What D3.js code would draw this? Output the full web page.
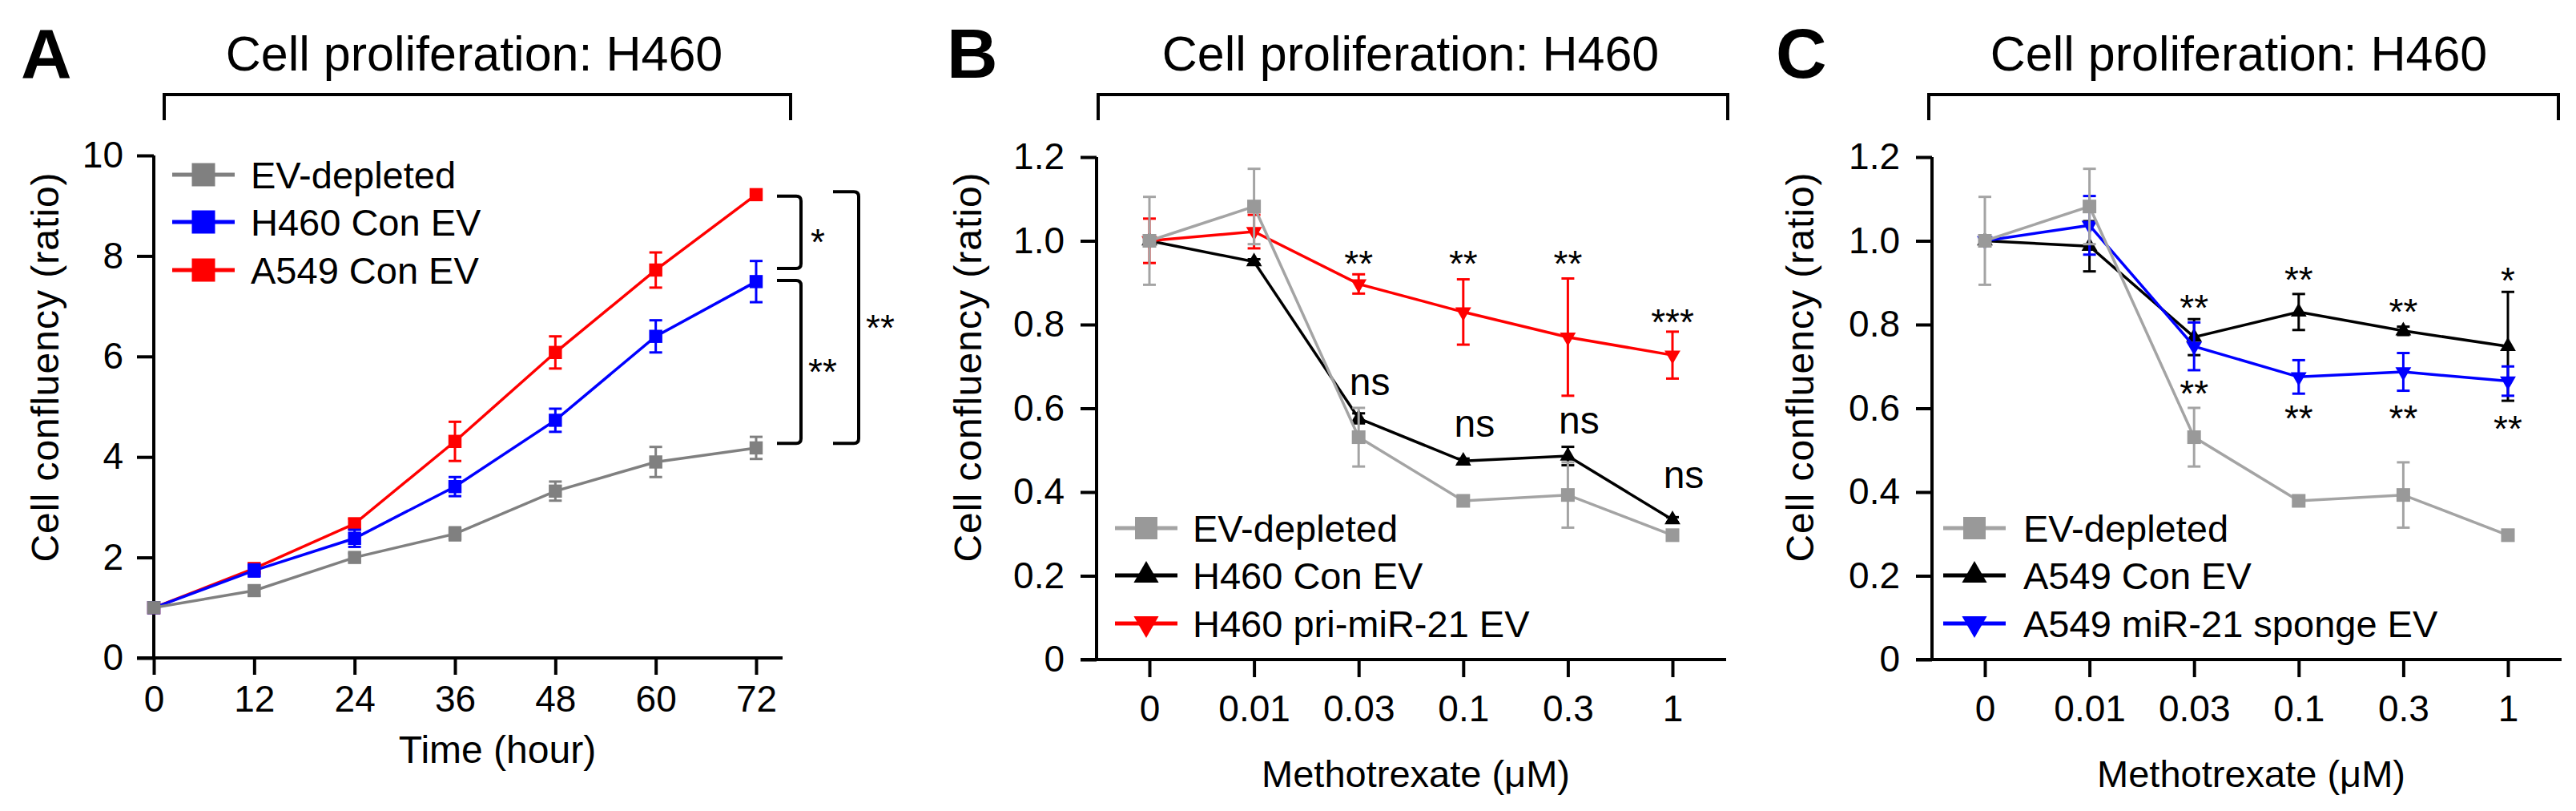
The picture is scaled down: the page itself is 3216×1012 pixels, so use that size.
<!DOCTYPE html>
<html>
<head>
<meta charset="utf-8">
<script src="https://cdn.jsdelivr.net/npm/d3@7"></script>
<style>
  html, body { margin: 0; padding: 0; background: #fff; }
  svg { display: block; }
  text { font-family: "Liberation Sans", Arial, Helvetica, sans-serif; fill: #000; }
</style>
</head>
<body>
<svg id="chart" width="3216" height="1012"></svg>
<script>
// ---- Panel A: proliferation over time ----
const hours = [0, 12, 24, 36, 48, 60, 72];
const evDepletedA    = [1.0, 1.34, 2.0, 2.47, 3.32, 3.9, 4.18];
const evDepletedAErr = [0.05, 0.1, 0.08, 0.13, 0.19, 0.3, 0.22];
const h460ConA       = [1.0, 1.74, 2.38, 3.41, 4.73, 6.4, 7.49];
const h460ConAErr    = [0.04, 0.12, 0.17, 0.19, 0.23, 0.32, 0.41];
const a549ConA       = [1.0, 1.78, 2.67, 4.31, 6.08, 7.72, 9.22];
const a549ConAErr    = [0.04, 0.08, 0.1, 0.39, 0.32, 0.35, 0.06];
const yTicksA = [0, 2, 4, 6, 8, 10];

// ---- Panels B and C: methotrexate dose ----
const doses = ["0", "0.01", "0.03", "0.1", "0.3", "1"];
const evDepleted      = [1.0, 1.082, 0.531, 0.379, 0.393, 0.297];
const evDepletedErr   = [0.105, 0.09, 0.07, 0.012, 0.078, 0.012];
const h460Con         = [1.0, 0.95, 0.576, 0.474, 0.486, 0.334];
const h460ConErr      = [0, 0.006, 0.012, 0.006, 0.022, 0.006];
const h460PriMiR21    = [1.0, 1.022, 0.897, 0.83, 0.77, 0.727];
const h460PriMiR21Err = [0.053, 0.04, 0.023, 0.078, 0.14, 0.056];
const a549Con         = [1.0, 0.987, 0.77, 0.83, 0.785, 0.748];
const a549ConErr      = [0.003, 0.06, 0.043, 0.043, 0.01, 0.13];
const a549Sponge      = [1.0, 1.037, 0.748, 0.675, 0.687, 0.665];
const a549SpongeErr   = [0.003, 0.07, 0.057, 0.04, 0.045, 0.035];
const yTicksBC = [0, 0.2, 0.4, 0.6, 0.8, 1.0, 1.2];

// significance marks
const sigBracketsA = [
  { top: 9.19, bottom: 7.75, label: "*",  outer: false },
  { top: 7.51, bottom: 4.27, label: "**", outer: false },
  { top: 9.28, bottom: 4.27, label: "**", outer: true }
];
const sigLabelsB = [
  { dose: "0.03", y: 0.97, label: "**" }, { dose: "0.1", y: 0.97, label: "**" },
  { dose: "0.3", y: 0.97, label: "**" },  { dose: "1", y: 0.83, label: "***" },
  { dose: "0.03", y: 0.66, label: "ns" }, { dose: "0.1", y: 0.56, label: "ns" },
  { dose: "0.3", y: 0.567, label: "ns" }, { dose: "1", y: 0.437, label: "ns" }
];
const sigLabelsC = [
  { dose: "0.03", y: 0.865, label: "**" }, { dose: "0.1", y: 0.932, label: "**" },
  { dose: "0.3", y: 0.855, label: "**" },  { dose: "1", y: 0.93, label: "*" },
  { dose: "0.03", y: 0.66, label: "**" },  { dose: "0.1", y: 0.60, label: "**" },
  { dose: "0.3", y: 0.60, label: "**" },   { dose: "1", y: 0.576, label: "**" }
];

const GRAY_A = "#808080", GRAY = "#a4a4a4", GRAY_MK = "#999999";
const svg = d3.select("#chart");

function panelFrame(p) {
  // panel letter, title, top bracket
  svg.append("text").attr("x", p.letterX).attr("y", 97)
    .style("font-size", "88px").style("font-weight", "bold").text(p.letter);
  svg.append("text").attr("x", p.titleX).attr("y", 88).attr("text-anchor", "middle")
    .style("font-size", "61px").text("Cell proliferation: H460");
  svg.append("path")
    .attr("d", `M${p.bx0},150 V118 H${p.bx1} V150`)
    .attr("fill", "none").attr("stroke", "#000").attr("stroke-width", 4);
  // y axis title
  svg.append("text")
    .attr("transform", `translate(${p.yTitleX},458) rotate(-90)`)
    .attr("text-anchor", "middle").attr("dy", "0.35em")
    .style("font-size", "48px").style("letter-spacing", "1px").text("Cell confluency (ratio)");
}

function styleAxis(g) {
  g.selectAll(".tick line").attr("stroke", "#000").attr("stroke-width", 4);
  g.selectAll(".tick text").style("font-size", "46px")
    .style("font-family", '"Liberation Sans", Arial, sans-serif');
  g.select(".domain").remove();
}

function drawSeries(g, xs, y, vals, errs, color, lineColor, symbol, size, rotate) {
  const pts = vals.map((v, i) => ({ x: xs[i], v, e: errs[i] }));
  g.append("path").datum(pts)
    .attr("d", d3.line().x(d => d.x).y(d => y(d.v)))
    .attr("fill", "none").attr("stroke", lineColor).attr("stroke-width", 3.5);
  const eb = g.append("g").attr("stroke", lineColor).attr("stroke-width", 3);
  pts.filter(d => d.e > 0).forEach(d => {
    eb.append("line").attr("x1", d.x).attr("x2", d.x).attr("y1", y(d.v - d.e)).attr("y2", y(d.v + d.e));
    [d.v - d.e, d.v + d.e].forEach(t =>
      eb.append("line").attr("x1", d.x - 8).attr("x2", d.x + 8).attr("y1", y(t)).attr("y2", y(t)));
  });
  g.append("g").selectAll("path").data(pts).join("path")
    .attr("d", d3.symbol().type(symbol).size(size))
    .attr("transform", d => `translate(${d.x},${y(d.v)}) rotate(${rotate})`)
    .attr("fill", color);
}

function legend(g, x0, textGap, rows, ys) {
  rows.forEach((r, i) => {
    const cy = ys[i];
    g.append("line").attr("x1", x0).attr("x2", x0 + 78).attr("y1", cy).attr("y2", cy)
      .attr("stroke", r.line).attr("stroke-width", 5);
    g.append("path").attr("d", d3.symbol().type(r.symbol).size(r.legendSize)())
      .attr("transform", `translate(${x0 + 39},${cy}) rotate(${r.rotate})`).attr("fill", r.color);
    g.append("text").attr("x", x0 + textGap).attr("y", cy).attr("dy", "0.36em")
      .style("font-size", "47px").text(r.name);
  });
}

function sigText(g, x, y, label) {
  const stars = label.indexOf("*") >= 0;
  g.append("text").attr("x", x).attr("y", y).attr("text-anchor", "middle")
    .attr("dy", stars ? "0.62em" : "0.3em")
    .style("font-size", stars ? "46px" : "48px").text(label);
}

// ================= Panel A =================
(function () {
  const x = d3.scaleLinear().domain([0, 72]).range([192, 944]);
  const y = d3.scaleLinear().domain([0, 10]).range([821, 194]);
  panelFrame({ letter: "A", letterX: 26, titleX: 592, bx0: 205, bx1: 987, yTitleX: 56 });
  const g = svg.append("g");

  const ya = g.append("g").attr("transform", "translate(192,0)")
    .call(d3.axisLeft(y).tickValues(yTicksA).tickSize(21).tickPadding(17));
  styleAxis(ya);
  g.append("line").attr("x1", 192).attr("x2", 192).attr("y1", y(10)).attr("y2", y(0))
    .attr("stroke", "#000").attr("stroke-width", 4);

  const xa = g.append("g").attr("transform", `translate(0,${y(0)})`)
    .call(d3.axisBottom(x).tickValues(hours).tickSize(21).tickPadding(13));
  styleAxis(xa);
  g.append("line").attr("x1", 171).attr("x2", 977).attr("y1", y(0)).attr("y2", y(0))
    .attr("stroke", "#000").attr("stroke-width", 4);

  g.append("text").attr("x", 621).attr("y", 952).attr("text-anchor", "middle")
    .style("font-size", "48px").text("Time (hour)");

  const xs = hours.map(h => x(h));
  drawSeries(g, xs, y, a549ConA, a549ConAErr, "#ff0000", "#ff0000", d3.symbolSquare, 270, 0);
  drawSeries(g, xs, y, h460ConA, h460ConAErr, "#0000ff", "#0000ff", d3.symbolSquare, 270, 0);
  drawSeries(g, xs, y, evDepletedA, evDepletedAErr, GRAY_A, GRAY_A, d3.symbolSquare, 270, 0);

  legend(g, 215, 98, [
    { name: "EV-depleted", line: GRAY_A, color: GRAY_A, symbol: d3.symbolSquare, legendSize: 841, rotate: 0 },
    { name: "H460 Con EV", line: "#0000ff", color: "#0000ff", symbol: d3.symbolSquare, legendSize: 841, rotate: 0 },
    { name: "A549 Con EV", line: "#ff0000", color: "#ff0000", symbol: d3.symbolSquare, legendSize: 841, rotate: 0 }
  ], [218, 277, 337]);

  // significance brackets to the right of the last time point
  sigBracketsA.forEach(b => {
    const xa0 = b.outer ? 1040 : 970, xv = b.outer ? 1072 : 1000;
    const t = y(b.top), bt = y(b.bottom);
    g.append("path")
      .attr("d", `M${xa0},${t} H${xv - 6} Q${xv},${t} ${xv},${t + 6} V${bt - 6} Q${xv},${bt} ${xv - 6},${bt} H${xa0}`)
      .attr("fill", "none").attr("stroke", "#000").attr("stroke-width", 4);
    sigText(g, xv + (b.label === "*" ? 21 : 27), (t + bt) / 2, b.label);
  });
})();

// ================= Panels B and C =================
function dosePanel(p) {
  const x = d3.scalePoint().domain(doses).range([p.ax + 66, p.ax + 719]);
  const y = d3.scaleLinear().domain([0, 1.2]).range([823, 196]);
  panelFrame(p);
  const g = svg.append("g");

  const ya = g.append("g").attr("transform", `translate(${p.ax},0)`)
    .call(d3.axisLeft(y).tickValues(yTicksBC).tickSize(20).tickPadding(20)
      .tickFormat(d => d === 0 ? "0" : d3.format(".1f")(d)));
  styleAxis(ya);
  g.append("line").attr("x1", p.ax).attr("x2", p.ax).attr("y1", y(1.2)).attr("y2", y(0))
    .attr("stroke", "#000").attr("stroke-width", 4);

  const xa = g.append("g").attr("transform", `translate(0,${y(0)})`)
    .call(d3.axisBottom(x).tickSize(22).tickPadding(22));
  styleAxis(xa);
  g.append("line").attr("x1", p.ax - 20).attr("x2", p.ax + 786).attr("y1", y(0)).attr("y2", y(0))
    .attr("stroke", "#000").attr("stroke-width", 4);

  g.append("text").attr("x", (x("0.03") + x("0.1")) / 2 + 6).attr("y", 982)
    .attr("text-anchor", "middle").style("font-size", "47px").text("Methotrexate (\u03bcM)");

  const xs = doses.map(d => x(d));
  p.series.forEach(s => drawSeries(g, xs, y, s.vals, s.errs, s.color, s.line, s.symbol, s.size, s.rotate));

  legend(g, p.ax + p.legendDx, p.legendGap, p.series.slice().sort((a, b) => a.order - b.order), [659, 718, 778]);

  p.sig.forEach(s => sigText(g, x(s.dose) + (s.label === "ns" ? 14 : 0), y(s.y), s.label));
}

const sqGray = { name: "EV-depleted", vals: evDepleted, errs: evDepletedErr, color: GRAY_MK, line: GRAY,
  symbol: d3.symbolSquare, size: 290, legendSize: 784, rotate: 0, order: 0 };

dosePanel({
  letter: "B", letterX: 1182, titleX: 1761, bx0: 1371, bx1: 2157, yTitleX: 1208, ax: 1369,
  legendDx: 23, legendGap: 97,
  series: [
    { name: "H460 Con EV", vals: h460Con, errs: h460ConErr, color: "#000", line: "#000",
      symbol: d3.symbolTriangle, size: 170, legendSize: 420, rotate: 0, order: 1 },
    { name: "H460 pri-miR-21 EV", vals: h460PriMiR21, errs: h460PriMiR21Err, color: "#ff0000", line: "#ff0000",
      symbol: d3.symbolTriangle, size: 170, legendSize: 420, rotate: 180, order: 2 },
    sqGray
  ],
  sig: sigLabelsB
});

dosePanel({
  letter: "C", letterX: 2217, titleX: 2795, bx0: 2408, bx1: 3194, yTitleX: 2247, ax: 2412,
  legendDx: 14, legendGap: 100,
  series: [
    { name: "A549 Con EV", vals: a549Con, errs: a549ConErr, color: "#000", line: "#000",
      symbol: d3.symbolTriangle, size: 170, legendSize: 420, rotate: 0, order: 1 },
    { name: "A549 miR-21 sponge EV", vals: a549Sponge, errs: a549SpongeErr, color: "#0000ff", line: "#0000ff",
      symbol: d3.symbolTriangle, size: 170, legendSize: 420, rotate: 180, order: 2 },
    sqGray
  ],
  sig: sigLabelsC
});
</script>
</body>
</html>
